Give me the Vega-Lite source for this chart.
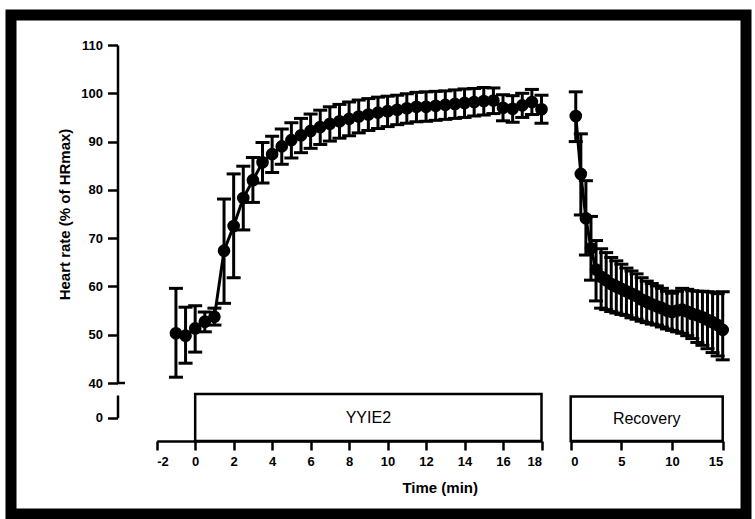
{
  "$schema": "https://vega.github.io/schema/vega-lite/v6.json",
  "width": 735,
  "height": 499,
  "autosize": {"type": "none"},
  "padding": {"left": 11, "top": 15, "right": 9, "bottom": 5},
  "background": "white",
  "config": {
    "view": {"stroke": "black", "strokeWidth": 11},
    "axis": {
      "domainColor": "black", "domainWidth": 2.5, "tickColor": "black", "tickWidth": 2.5, "grid": false,
      "labelFont": "Liberation Sans", "labelFontSize": 13, "labelFontWeight": "bold", "labelColor": "black",
      "titleFont": "Liberation Sans", "titleFontSize": 15, "titleFontWeight": "bold", "titleColor": "black"
    },
    "text": {"font": "Liberation Sans"}
  },
  "datasets": {
    "exercise": [
      {"t": -1, "mean": 50.3, "lo": 41.2, "hi": 59.6},
      {"t": -0.5, "mean": 49.8, "lo": 44.1, "hi": 55.7},
      {"t": 0, "mean": 51.3, "lo": 46.4, "hi": 56.0},
      {"t": 0.5, "mean": 52.7, "lo": 50.6, "hi": 54.7},
      {"t": 1, "mean": 53.7, "lo": 52.0, "hi": 55.5},
      {"t": 1.5, "mean": 67.4, "lo": 56.5, "hi": 78.1},
      {"t": 2, "mean": 72.5, "lo": 61.8, "hi": 83.3},
      {"t": 2.5, "mean": 78.3, "lo": 71.7, "hi": 84.9},
      {"t": 3, "mean": 82.0, "lo": 77.4, "hi": 86.7},
      {"t": 3.5, "mean": 85.7, "lo": 81.4, "hi": 89.8},
      {"t": 4, "mean": 87.4, "lo": 83.6, "hi": 91.1},
      {"t": 4.5, "mean": 89.0, "lo": 85.3, "hi": 92.6},
      {"t": 5, "mean": 90.3, "lo": 86.6, "hi": 93.9},
      {"t": 5.5, "mean": 91.3, "lo": 87.7, "hi": 94.8},
      {"t": 6, "mean": 92.2, "lo": 88.6, "hi": 95.7},
      {"t": 6.5, "mean": 93.0, "lo": 89.4, "hi": 96.5},
      {"t": 7, "mean": 93.7, "lo": 90.1, "hi": 97.2},
      {"t": 7.5, "mean": 94.2, "lo": 90.7, "hi": 97.7},
      {"t": 8, "mean": 94.7, "lo": 91.2, "hi": 98.2},
      {"t": 8.5, "mean": 95.2, "lo": 91.8, "hi": 98.6},
      {"t": 9, "mean": 95.6, "lo": 92.3, "hi": 98.9},
      {"t": 9.5, "mean": 96.0, "lo": 92.7, "hi": 99.2},
      {"t": 10, "mean": 96.3, "lo": 93.1, "hi": 99.4},
      {"t": 10.5, "mean": 96.6, "lo": 93.5, "hi": 99.6},
      {"t": 11, "mean": 96.9, "lo": 93.8, "hi": 99.9},
      {"t": 11.5, "mean": 97.2, "lo": 94.1, "hi": 100.2},
      {"t": 12, "mean": 97.2, "lo": 94.2, "hi": 100.3},
      {"t": 12.5, "mean": 97.4, "lo": 94.4, "hi": 100.4},
      {"t": 13, "mean": 97.6, "lo": 94.6, "hi": 100.5},
      {"t": 13.5, "mean": 97.8, "lo": 94.8, "hi": 100.7},
      {"t": 14, "mean": 98.0, "lo": 95.0, "hi": 100.9},
      {"t": 14.5, "mean": 98.2, "lo": 95.3, "hi": 101.0},
      {"t": 15, "mean": 98.4, "lo": 95.5, "hi": 101.2},
      {"t": 15.5, "mean": 98.5, "lo": 95.8, "hi": 101.1},
      {"t": 16, "mean": 97.0, "lo": 94.3, "hi": 99.7},
      {"t": 16.5, "mean": 96.8, "lo": 94.0, "hi": 99.5},
      {"t": 17, "mean": 97.5, "lo": 95.0, "hi": 100.0},
      {"t": 17.5, "mean": 98.2, "lo": 95.6, "hi": 100.8},
      {"t": 18, "mean": 96.7, "lo": 93.8, "hi": 99.6}
    ],
    "recovery": [
      {"t": 0.5, "mean": 95.3, "lo": 90.0, "hi": 100.3},
      {"t": 1, "mean": 83.3, "lo": 74.8, "hi": 91.6},
      {"t": 1.5, "mean": 74.1, "lo": 66.5, "hi": 81.9},
      {"t": 2, "mean": 67.9, "lo": 61.3, "hi": 74.5},
      {"t": 2.5, "mean": 63.5, "lo": 57.0, "hi": 69.5},
      {"t": 3, "mean": 62.0, "lo": 55.5, "hi": 67.8},
      {"t": 3.5, "mean": 61.3, "lo": 55.2, "hi": 67.0},
      {"t": 4, "mean": 60.5, "lo": 54.8, "hi": 66.0},
      {"t": 4.5, "mean": 60.0, "lo": 54.5, "hi": 65.3},
      {"t": 5, "mean": 59.5, "lo": 54.2, "hi": 64.6},
      {"t": 5.5, "mean": 59.0, "lo": 54.0, "hi": 63.8},
      {"t": 6, "mean": 58.5, "lo": 53.5, "hi": 63.2},
      {"t": 6.5, "mean": 58.0, "lo": 53.2, "hi": 62.6},
      {"t": 7, "mean": 57.3, "lo": 52.8, "hi": 61.8},
      {"t": 7.5, "mean": 56.8, "lo": 52.5, "hi": 61.1},
      {"t": 8, "mean": 56.3, "lo": 52.2, "hi": 60.6},
      {"t": 8.5, "mean": 55.9, "lo": 52.0, "hi": 60.1},
      {"t": 9, "mean": 55.5, "lo": 51.6, "hi": 59.6},
      {"t": 9.5, "mean": 55.0, "lo": 51.2, "hi": 59.0},
      {"t": 10, "mean": 54.7, "lo": 50.9, "hi": 58.6},
      {"t": 10.5, "mean": 55.0, "lo": 50.6, "hi": 59.0},
      {"t": 11, "mean": 55.2, "lo": 50.3, "hi": 59.6},
      {"t": 11.5, "mean": 54.8, "lo": 49.8, "hi": 59.4},
      {"t": 12, "mean": 54.3, "lo": 49.2, "hi": 59.1},
      {"t": 12.5, "mean": 54.0, "lo": 48.4, "hi": 59.0},
      {"t": 13, "mean": 53.6, "lo": 47.8, "hi": 59.0},
      {"t": 13.5, "mean": 53.1, "lo": 47.1, "hi": 58.9},
      {"t": 14, "mean": 52.6, "lo": 46.3, "hi": 58.8},
      {"t": 14.5, "mean": 52.0, "lo": 45.6, "hi": 58.5},
      {"t": 15, "mean": 51.0, "lo": 44.8, "hi": 58.9}
    ]
  },
  "resolve": {"scale": {"x": "independent", "y": "independent"}},
  "layer": [
    {
      "resolve": {"scale": {"x": "independent"}},
      "layer": [
        {
          "data": {"name": "exercise"},
          "layer": [
            {"mark": {"type": "rule", "strokeWidth": 3, "color": "black"},
             "encoding": {
               "x": {"field": "t", "type": "quantitative", "scale": {"domain": [-2, 18], "range": [145.7, 530.5], "nice": false, "zero": false}, "axis": {"orient": "bottom", "offset": -73, "values": [-2, 0, 2, 4, 6, 8, 10, 12, 14, 16, 18], "tickSize": 9, "labelPadding": 5, "title": null, "labelExpr": "'' + datum.value"}},
               "y": {"field": "lo", "type": "quantitative", "scale": {"domain": [40, 110], "range": [368, 30], "nice": false, "zero": false}, "axis": {"orient": "left", "offset": -106.5, "values": [40, 50, 60, 70, 80, 90, 100, 110], "tickSize": 10, "labelPadding": 5, "title": "Heart rate (% of HRmax)", "titlePadding": 8}},
               "y2": {"field": "hi"}
             }},
            {"mark": {"type": "tick", "orient": "horizontal", "size": 14, "thickness": 3, "color": "black", "opacity": 1},
             "encoding": {"x": {"field": "t", "type": "quantitative"}, "y": {"field": "lo", "type": "quantitative"}}},
            {"mark": {"type": "tick", "orient": "horizontal", "size": 14, "thickness": 3, "color": "black", "opacity": 1},
             "encoding": {"x": {"field": "t", "type": "quantitative"}, "y": {"field": "hi", "type": "quantitative"}}},
            {"mark": {"type": "line", "strokeWidth": 3, "color": "black"},
             "encoding": {"x": {"field": "t", "type": "quantitative"}, "y": {"field": "mean", "type": "quantitative"}}},
            {"mark": {"type": "point", "filled": true, "size": 160, "opacity": 1, "color": "black"},
             "encoding": {"x": {"field": "t", "type": "quantitative"}, "y": {"field": "mean", "type": "quantitative"}}},
            {"data": {"values": [{"phase": "YYIE2", "start": 0, "end": 18, "mid": 9}]},
             "layer": [
               {"mark": {"type": "rect", "fill": "white", "stroke": "black", "strokeWidth": 2.5},
                "encoding": {"x": {"field": "start", "type": "quantitative"}, "x2": {"field": "end"}, "y": {"datum": 37.72}, "y2": {"datum": 27.99}}},
               {"mark": {"type": "text", "fontSize": 16, "color": "black", "baseline": "middle", "align": "center"},
                "encoding": {"x": {"field": "mid", "type": "quantitative"}, "y": {"datum": 32.7}, "text": {"field": "phase"}}},
               {"mark": {"type": "rule", "strokeWidth": 2.5, "color": "black"},
                "encoding": {"x": {"datum": -4.04}, "x2": {"datum": -3.65}, "y": {"datum": 40}}}
             ]}
          ]
        },
        {
          "data": {"name": "recovery"},
          "layer": [
            {"mark": {"type": "rule", "strokeWidth": 3, "color": "black"},
             "encoding": {
               "x": {"field": "t", "type": "quantitative", "scale": {"domain": [0, 15], "range": [559.7, 711.7], "nice": false, "zero": false}, "axis": {"orient": "bottom", "offset": -73, "values": [0, 5, 10, 15], "tickSize": 9, "labelPadding": 5, "title": null}},
               "y": {"field": "lo", "type": "quantitative"},
               "y2": {"field": "hi"}
             }},
            {"mark": {"type": "tick", "orient": "horizontal", "size": 14, "thickness": 3, "color": "black", "opacity": 1},
             "encoding": {"x": {"field": "t", "type": "quantitative"}, "y": {"field": "lo", "type": "quantitative"}}},
            {"mark": {"type": "tick", "orient": "horizontal", "size": 14, "thickness": 3, "color": "black", "opacity": 1},
             "encoding": {"x": {"field": "t", "type": "quantitative"}, "y": {"field": "hi", "type": "quantitative"}}},
            {"mark": {"type": "line", "strokeWidth": 3, "color": "black"},
             "encoding": {"x": {"field": "t", "type": "quantitative"}, "y": {"field": "mean", "type": "quantitative"}}},
            {"mark": {"type": "point", "filled": true, "size": 160, "opacity": 1, "color": "black"},
             "encoding": {"x": {"field": "t", "type": "quantitative"}, "y": {"field": "mean", "type": "quantitative"}}},
            {"data": {"values": [{"phase": "Recovery", "start": 0, "end": 15, "mid": 7.5}]},
             "layer": [
               {"mark": {"type": "rect", "fill": "white", "stroke": "black", "strokeWidth": 2.5},
                "encoding": {"x": {"field": "start", "type": "quantitative"}, "x2": {"field": "end"}, "y": {"datum": 37.2}, "y2": {"datum": 27.99}}},
               {"mark": {"type": "text", "fontSize": 16, "color": "black", "baseline": "middle", "align": "center"},
                "encoding": {"x": {"field": "mid", "type": "quantitative"}, "y": {"datum": 32.5}, "text": {"field": "phase"}}}
             ]}
          ]
        }
      ]
    },
    {
      "mark": {"type": "rule", "strokeWidth": 2.5, "color": "black"},
      "encoding": {
        "x": {"datum": -0.0795, "type": "quantitative", "scale": {"domain": [0, 1], "range": [145.7, 711.7], "nice": false, "zero": false}, "axis": {"orient": "bottom", "offset": -73, "domain": false, "ticks": false, "labels": false, "title": "Time (min)", "titlePadding": 39}},
        "x2": {"datum": -0.056},
        "y": {"datum": 5, "type": "quantitative", "scale": {"domain": [0, 5], "range": [402.7, 380], "nice": false, "zero": false}, "axis": {"orient": "left", "offset": -106.5, "values": [0], "tickSize": 10, "labelPadding": 5, "title": null}}
      }
    }
  ]
}
